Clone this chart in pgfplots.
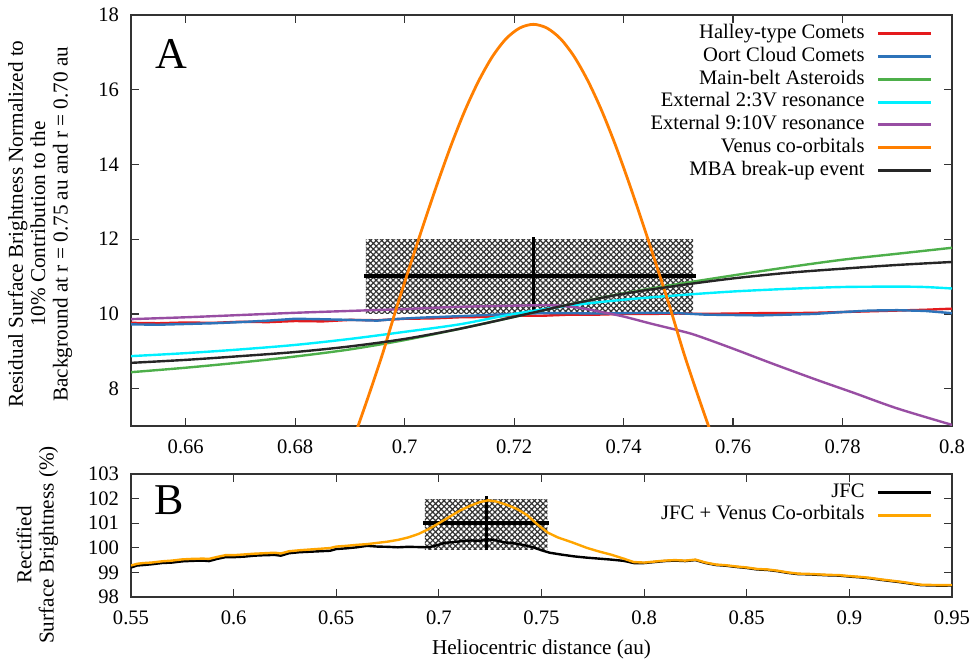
\documentclass[border=0pt]{standalone}
\usepackage{fontspec}
\setmainfont{Liberation Serif}
\usepackage{pgfplots}
\pgfplotsset{compat=1.18}
\usetikzlibrary{patterns.meta}
\definecolor{cRed}{RGB}{228,26,28}
\definecolor{cBlue}{RGB}{45,115,185}
\definecolor{cGreen}{RGB}{77,175,74}
\definecolor{cCyan}{RGB}{0,240,255}
\definecolor{cPurple}{RGB}{152,78,163}
\definecolor{cOrange}{RGB}{255,127,0}
\definecolor{cGold}{RGB}{255,165,0}
\newcommand\fsz{\fontsize{10.3}{11.2}\selectfont}
\newcommand\lsz{\fontsize{10.6}{11.2}\selectfont}
\pgfplotsset{
  common/.style={
    scale only axis, width=410.5pt,
    tick align=inside, major tick length=4pt,
    axis line style={line width=0.7pt, black!80},
    every tick/.style={black!80, line width=0.6pt},
    /pgf/number format/assume math mode=true,
    tick label style={font=\fsz},
    xticklabel shift=3.5pt,
    yticklabel shift=2.5pt,
    legend plot pos=right, legend cell align=right,
    legend style={draw=none, fill=none, font=\fsz, inner sep=0pt, row sep=0pt, column sep=5pt,
      nodes={inner sep=1.1pt, text height=7pt, text depth=2.2pt}},
    legend image code/.code={\draw[##1, line width=1.5pt] (0pt,0pt) -- (26.5pt,0pt);},
    label style={font=\lsz},
  }
}
\begin{document}
\begin{tikzpicture}
\path[use as bounding box] (0,0) rectangle (487pt,-331pt);
% ---------------- Panel A ----------------
\begin{axis}[common, at={(65.5pt,-7.5pt)}, anchor=north west, height=205.5pt,
  xmin=0.65, xmax=0.8, ymin=7, ymax=18,
  xtick={0.66,0.68,0.70,0.72,0.74,0.76,0.78,0.80},
  xticklabels={0.66,0.68,0.7,0.72,0.74,0.76,0.78,0.8},
  ytick={8,10,12,14,16,18},
  ylabel={Residual Surface Brightness Normalized to\\10\% Contribution to the\\Background at r = 0.75 au and r = 0.70 au},
  ylabel style={at={(axis description cs:-0.063,0.491)}, anchor=south, align=center},
  legend style={at={(axis description cs:0.977,0.983)}, anchor=north east},
]
\addplot[forget plot, draw=none, pattern={Hatch[angle=45,distance=2pt,line width=0.6pt]}, pattern color=black!80]
  coordinates {(0.6929,10) (0.7527,10) (0.7527,12) (0.6929,12)} -- cycle;
\addplot[forget plot, black, line width=1.8pt] coordinates {(0.6926,11.02) (0.7533,11.02)};
\addplot[forget plot, black, line width=1.6pt] coordinates {(0.7235,10.05) (0.7235,12.05)};

\addplot[cRed, line width=1.2pt] coordinates {(0.650,9.76)(0.655,9.75)(0.660,9.77)(0.665,9.76)(0.670,9.79)(0.675,9.78)(0.680,9.81)(0.685,9.80)(0.690,9.84)(0.695,9.83)(0.700,9.87)(0.705,9.88)(0.710,9.91)(0.715,9.92)(0.720,9.95)(0.725,9.95)(0.730,9.98)(0.735,9.98)(0.740,10.00)(0.745,10.00)(0.750,10.01)(0.755,10.00)(0.760,10.01)(0.765,10.02)(0.770,10.02)(0.775,10.03)(0.780,10.05)(0.785,10.07)(0.790,10.09)(0.795,10.11)(0.800,10.14)};
\addlegendentry{Halley-type Comets}
\addplot[cBlue, line width=1.2pt] coordinates {(0.650,9.72)(0.655,9.71)(0.660,9.73)(0.665,9.75)(0.670,9.78)(0.675,9.82)(0.680,9.87)(0.684,9.86)(0.690,9.84)(0.695,9.82)(0.698,9.86)(0.703,9.90)(0.710,9.94)(0.715,9.97)(0.720,10.00)(0.725,10.02)(0.730,10.02)(0.735,10.01)(0.740,10.02)(0.745,10.03)(0.750,10.02)(0.755,9.98)(0.760,9.97)(0.765,9.96)(0.770,9.98)(0.775,10.00)(0.780,10.05)(0.785,10.09)(0.790,10.10)(0.795,10.08)(0.800,10.02)};
\addlegendentry{Oort Cloud Comets}
\addplot[cGreen, line width=1.2pt, smooth] coordinates {(0.650,8.44)(0.660,8.56)(0.670,8.70)(0.680,8.86)(0.690,9.05)(0.700,9.30)(0.710,9.60)(0.720,9.92)(0.730,10.25)(0.740,10.55)(0.750,10.80)(0.760,11.03)(0.770,11.25)(0.780,11.45)(0.790,11.61)(0.800,11.77)};
\addlegendentry{Main-belt Asteroids}
\addplot[cCyan, line width=1.2pt, smooth] coordinates {(0.650,8.87)(0.660,8.95)(0.670,9.05)(0.680,9.17)(0.690,9.33)(0.700,9.52)(0.710,9.72)(0.720,10.00)(0.730,10.22)(0.740,10.38)(0.750,10.50)(0.760,10.60)(0.770,10.67)(0.780,10.72)(0.790,10.73)(0.795,10.72)(0.800,10.68)};
\addlegendentry{External 2:3V resonance}
\addplot[cPurple, line width=1.2pt, smooth] coordinates {(0.650,9.86)(0.660,9.91)(0.670,9.97)(0.680,10.03)(0.690,10.08)(0.700,10.13)(0.710,10.19)(0.720,10.22)(0.727,10.23)(0.732,10.16)(0.736,10.05)(0.740,9.93)(0.745,9.74)(0.750,9.56)(0.7532,9.43)(0.760,9.07)(0.767,8.68)(0.775,8.25)(0.782,7.89)(0.790,7.47)(0.800,7.03)};
\addlegendentry{External 9:10V resonance}
\addplot[cOrange, line width=1.4pt, smooth] coordinates {(0.6885,5.8)(0.6910,6.8)(0.6935,7.85)(0.6960,8.95)(0.6985,10.16)(0.7010,11.30)(0.7035,12.42)(0.7060,13.50)(0.7085,14.52)(0.7110,15.44)(0.7135,16.23)(0.7160,16.88)(0.7185,17.36)(0.7210,17.65)(0.7235,17.75)(0.7260,17.65)(0.7285,17.36)(0.7310,16.88)(0.7335,16.23)(0.7360,15.44)(0.7385,14.52)(0.7410,13.50)(0.7435,12.42)(0.7460,11.30)(0.7485,10.16)(0.7510,8.95)(0.7535,7.85)(0.7560,6.8)(0.7585,5.8)};
\addlegendentry{Venus co-orbitals}
\addplot[black!85, line width=1.2pt, smooth] coordinates {(0.650,8.69)(0.660,8.77)(0.670,8.87)(0.680,8.98)(0.690,9.13)(0.700,9.33)(0.710,9.60)(0.720,9.92)(0.730,10.25)(0.740,10.54)(0.750,10.76)(0.760,10.95)(0.770,11.10)(0.780,11.21)(0.790,11.31)(0.800,11.39)};
\addlegendentry{MBA break-up event}
\node[font=\fontsize{22}{24}\selectfont] at (rel axis cs:0.0487,0.905) {A};
\end{axis}
% ---------------- Panel B ----------------
\begin{axis}[common, at={(65.5pt,-237pt)}, anchor=north west, height=61.5pt,
  xmin=0.55, xmax=0.95, ymin=98, ymax=103,
  xtick={0.55,0.60,0.65,0.70,0.75,0.80,0.85,0.90,0.95},
  xticklabels={0.55,0.6,0.65,0.7,0.75,0.8,0.85,0.9,0.95},
  ytick={98,99,100,101,102,103},
  ylabel={Rectified\\Surface Brightness (\%)},
  ylabel style={at={(axis description cs:-0.080,0.423)}, anchor=south, align=center},
  xlabel={Heliocentric distance (au)},
  xlabel style={at={(axis description cs:0.5,0)}, anchor=center, yshift=-26pt},
  legend style={at={(axis description cs:0.977,0.947)}, anchor=north east},
]
\addplot[forget plot, draw=none, pattern={Hatch[angle=45,distance=2pt,line width=0.6pt]}, pattern color=black!80]
  coordinates {(0.6932,99.95) (0.7528,99.95) (0.7528,101.97) (0.6932,101.97)} -- cycle;
\addplot[forget plot, black, line width=1.8pt] coordinates {(0.6924,101.0) (0.7538,101.0)};
\addplot[forget plot, black, line width=1.6pt] coordinates {(0.7233,99.9) (0.7233,102.1)};

\addplot[black, line width=1.2pt] coordinates {(0.550,99.20)(0.553,99.28)(0.556,99.30)(0.560,99.33)(0.565,99.38)(0.570,99.40)(0.575,99.45)(0.580,99.47)(0.585,99.48)(0.588,99.46)(0.592,99.55)(0.596,99.62)(0.600,99.62)(0.605,99.64)(0.610,99.68)(0.615,99.70)(0.620,99.71)(0.623,99.68)(0.627,99.78)(0.632,99.82)(0.637,99.84)(0.642,99.86)(0.647,99.88)(0.650,99.95)(0.655,99.98)(0.660,100.02)(0.665,100.08)(0.670,100.05)(0.675,100.04)(0.680,100.02)(0.685,100.04)(0.690,100.03)(0.695,100.02)(0.698,100.08)(0.703,100.20)(0.708,100.24)(0.712,100.28)(0.716,100.30)(0.720,100.28)(0.723,100.35)(0.727,100.32)(0.732,100.22)(0.737,100.18)(0.742,100.10)(0.746,100.02)(0.750,99.90)(0.754,99.80)(0.760,99.72)(0.766,99.65)(0.772,99.60)(0.778,99.56)(0.784,99.52)(0.790,99.47)(0.795,99.38)(0.800,99.38)(0.805,99.42)(0.810,99.46)(0.815,99.48)(0.820,99.46)(0.825,99.50)(0.830,99.38)(0.835,99.30)(0.840,99.27)(0.845,99.22)(0.850,99.18)(0.855,99.12)(0.860,99.10)(0.865,99.05)(0.870,98.98)(0.875,98.93)(0.880,98.92)(0.885,98.90)(0.890,98.88)(0.895,98.87)(0.900,98.83)(0.905,98.80)(0.910,98.76)(0.915,98.70)(0.920,98.65)(0.925,98.60)(0.930,98.54)(0.935,98.48)(0.940,98.47)(0.945,98.46)(0.950,98.47)};
\addlegendentry{JFC}
\addplot[cGold, line width=1.2pt] coordinates {(0.550,99.28)(0.553,99.35)(0.556,99.38)(0.560,99.40)(0.565,99.45)(0.570,99.48)(0.575,99.53)(0.580,99.55)(0.585,99.56)(0.588,99.55)(0.592,99.63)(0.596,99.70)(0.600,99.70)(0.605,99.73)(0.610,99.76)(0.615,99.78)(0.620,99.80)(0.623,99.77)(0.627,99.86)(0.632,99.90)(0.637,99.93)(0.642,99.96)(0.647,99.99)(0.650,100.05)(0.655,100.08)(0.660,100.12)(0.665,100.15)(0.670,100.20)(0.675,100.25)(0.680,100.32)(0.685,100.42)(0.690,100.56)(0.695,100.76)(0.700,101.00)(0.705,101.25)(0.710,101.50)(0.715,101.70)(0.720,101.86)(0.724,101.93)(0.728,101.88)(0.733,101.75)(0.738,101.58)(0.743,101.33)(0.748,100.95)(0.753,100.62)(0.758,100.42)(0.765,100.22)(0.772,100.00)(0.778,99.85)(0.784,99.72)(0.790,99.56)(0.795,99.42)(0.800,99.40)(0.805,99.44)(0.810,99.48)(0.815,99.50)(0.820,99.48)(0.825,99.52)(0.830,99.40)(0.835,99.32)(0.840,99.29)(0.845,99.24)(0.850,99.20)(0.855,99.14)(0.860,99.12)(0.865,99.07)(0.870,99.00)(0.875,98.95)(0.880,98.94)(0.885,98.92)(0.890,98.90)(0.895,98.89)(0.900,98.85)(0.905,98.82)(0.910,98.78)(0.915,98.72)(0.920,98.67)(0.925,98.62)(0.930,98.56)(0.935,98.50)(0.940,98.49)(0.945,98.48)(0.950,98.49)};
\addlegendentry{JFC + Venus Co-orbitals}
\node[font=\fontsize{22}{24}\selectfont] at (rel axis cs:0.046,0.789) {B};
\end{axis}
\end{tikzpicture}
\end{document}
